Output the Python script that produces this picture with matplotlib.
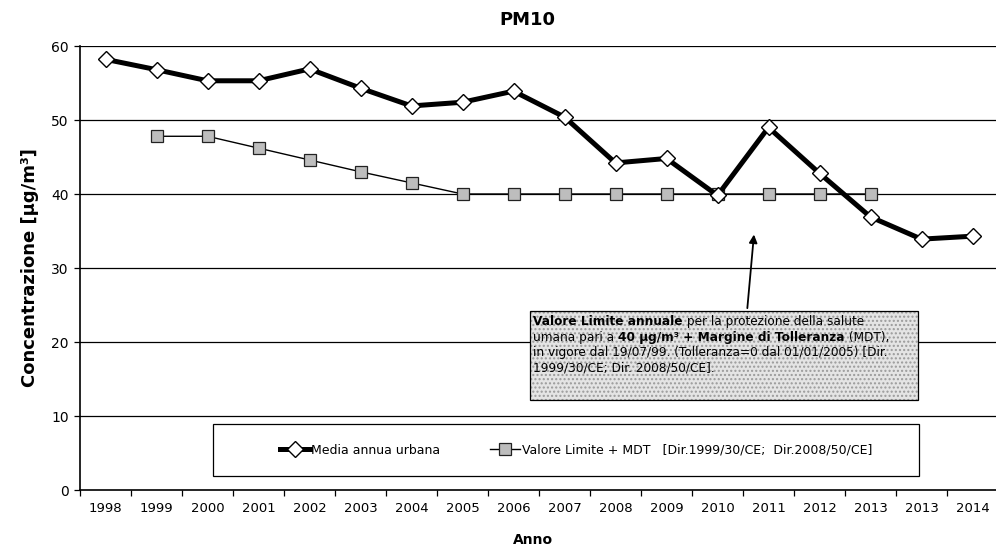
import numpy as np
import matplotlib
matplotlib.use("Agg")
import matplotlib.pyplot as plt
from matplotlib.patches import Rectangle

plt.rcParams["font.family"] = ["DejaVu Sans"]

# --- data ---
anni = ["1998", "1999", "2000", "2001", "2002", "2003", "2004", "2005", "2006",
        "2007", "2008", "2009", "2010", "2011", "2012", "2013", "2013", "2014"]
media_urbana = [58.2, 56.8, 55.3, 55.3, 56.9, 54.3, 51.9, 52.4, 53.9,
                50.4, 44.2, 44.8, 39.8, 49.0, 42.8, 36.9, 33.9, 34.3]
valore_limite = [np.nan, 47.8, 47.8, 46.2, 44.6, 43.0, 41.5, 40.0, 40.0,
                 40.0, 40.0, 40.0, 40.0, 40.0, 40.0, 40.0, np.nan, np.nan]

x = np.arange(len(anni))

fig = plt.figure(figsize=(9.96, 5.54), dpi=100)
ax = fig.add_axes([80 / 996, 1 - 490 / 554, 918 / 996, 444 / 554])

# --- grid and axes ---
ax.set_ylim(0, 60)
ax.set_xlim(-0.5, len(anni) - 0.5)
ax.set_yticks(range(0, 61, 10))
for yv in range(10, 61, 10):
    ax.axhline(yv, color="black", lw=0.9, zorder=1)

ax.set_xticks(x)
ax.set_xticklabels(anni, fontsize=9.5)
ax.set_xticks(np.arange(-0.5, len(anni)), minor=True)
ax.tick_params(axis="x", which="major", length=0, pad=9)
ax.tick_params(axis="x", which="minor", length=4, width=0.9, direction="out")
ax.tick_params(axis="y", length=4, width=0.9, labelsize=10, pad=4)

for s in ["top", "right"]:
    ax.spines[s].set_visible(False)
ax.spines["left"].set_linewidth(1.2)
ax.spines["bottom"].set_linewidth(1.2)

# --- series ---
l_lim, = ax.plot(x, valore_limite, color="black", lw=1.0, marker="s",
                 markersize=8, markerfacecolor="#bdbdbd", markeredgecolor="#222222",
                 markeredgewidth=0.9, zorder=3,
                 label="Valore Limite + MDT   [Dir.1999/30/CE;  Dir.2008/50/CE]")
l_med, = ax.plot(x, media_urbana, color="black", lw=3.6, marker="D",
                 markersize=8.5, markerfacecolor="white", markeredgecolor="black",
                 markeredgewidth=1.0, zorder=4, label="Media annua urbana")

# --- titles ---
fig.text(527 / 996, 1 - 20 / 554, "PM10", ha="center", va="center",
         fontsize=13, fontweight="bold")
ax.set_ylabel("Concentrazione [µg/m³]", fontsize=13, fontweight="bold", labelpad=9)
fig.text(533 / 996, 1 - 540 / 554, "Anno", ha="center", va="center",
         fontsize=10, fontweight="bold")

# --- legend box ---
leg_box = (2.1, 1.9, 13.85, 7.0)   # x, y, w, h in data units
ax.add_patch(Rectangle(leg_box[:2], leg_box[2], leg_box[3], facecolor="white",
                       edgecolor="black", lw=0.9, zorder=5))
leg = ax.legend(handles=[l_med, l_lim], loc="center", ncol=2, frameon=False,
                fontsize=9, handlelength=2.4, columnspacing=4, handletextpad=0.1,
                bbox_to_anchor=(leg_box[0] + leg_box[2] / 2 + 0.2,
                                leg_box[1] + leg_box[3] / 2),
                bbox_transform=ax.transData)
leg.set_zorder(6)

# --- annotation box ---
bx, by, bw, bh = 8.33, 12.2, 7.6, 12.0
ax.add_patch(Rectangle((bx, by), bw, bh, facecolor="#e4e4e4", edgecolor="#9a9a9a",
                       lw=0, hatch="....", zorder=5))
ax.add_patch(Rectangle((bx, by), bw, bh, facecolor="none", edgecolor="black",
                       lw=0.9, zorder=6))

righe = [
    [("Valore Limite annuale", "bold"), (" per la protezione della salute", "normal")],
    [("umana pari a ", "normal"), ("40 µg/m³ + Margine di Tolleranza", "bold"),
     (" (MDT),", "normal")],
    [("in vigore dal 19/07/99. (Tolleranza=0 dal 01/01/2005) [Dir.", "normal")],
    [("1999/30/CE; Dir. 2008/50/CE].", "normal")],
]
y0 = by + bh - 1.9
for i, riga in enumerate(righe):
    t = ax.text(bx + 0.06, y0 - i * 2.1, riga[0][0], fontweight=riga[0][1],
                fontsize=8.7, ha="left", va="baseline", zorder=7)
    for testo, peso in riga[1:]:
        t = ax.annotate(testo, xy=(1, 0), xycoords=t, xytext=(0, 0),
                        textcoords="offset points", ha="left", va="bottom",
                        fontsize=8.7, fontweight=peso, zorder=7)

ax.annotate("", xy=(12.72, 34.9), xytext=(12.58, by + bh),
            arrowprops=dict(arrowstyle="-|>", color="black", lw=1.3,
                            mutation_scale=12), zorder=7)

fig.savefig("out.png", dpi=100)
